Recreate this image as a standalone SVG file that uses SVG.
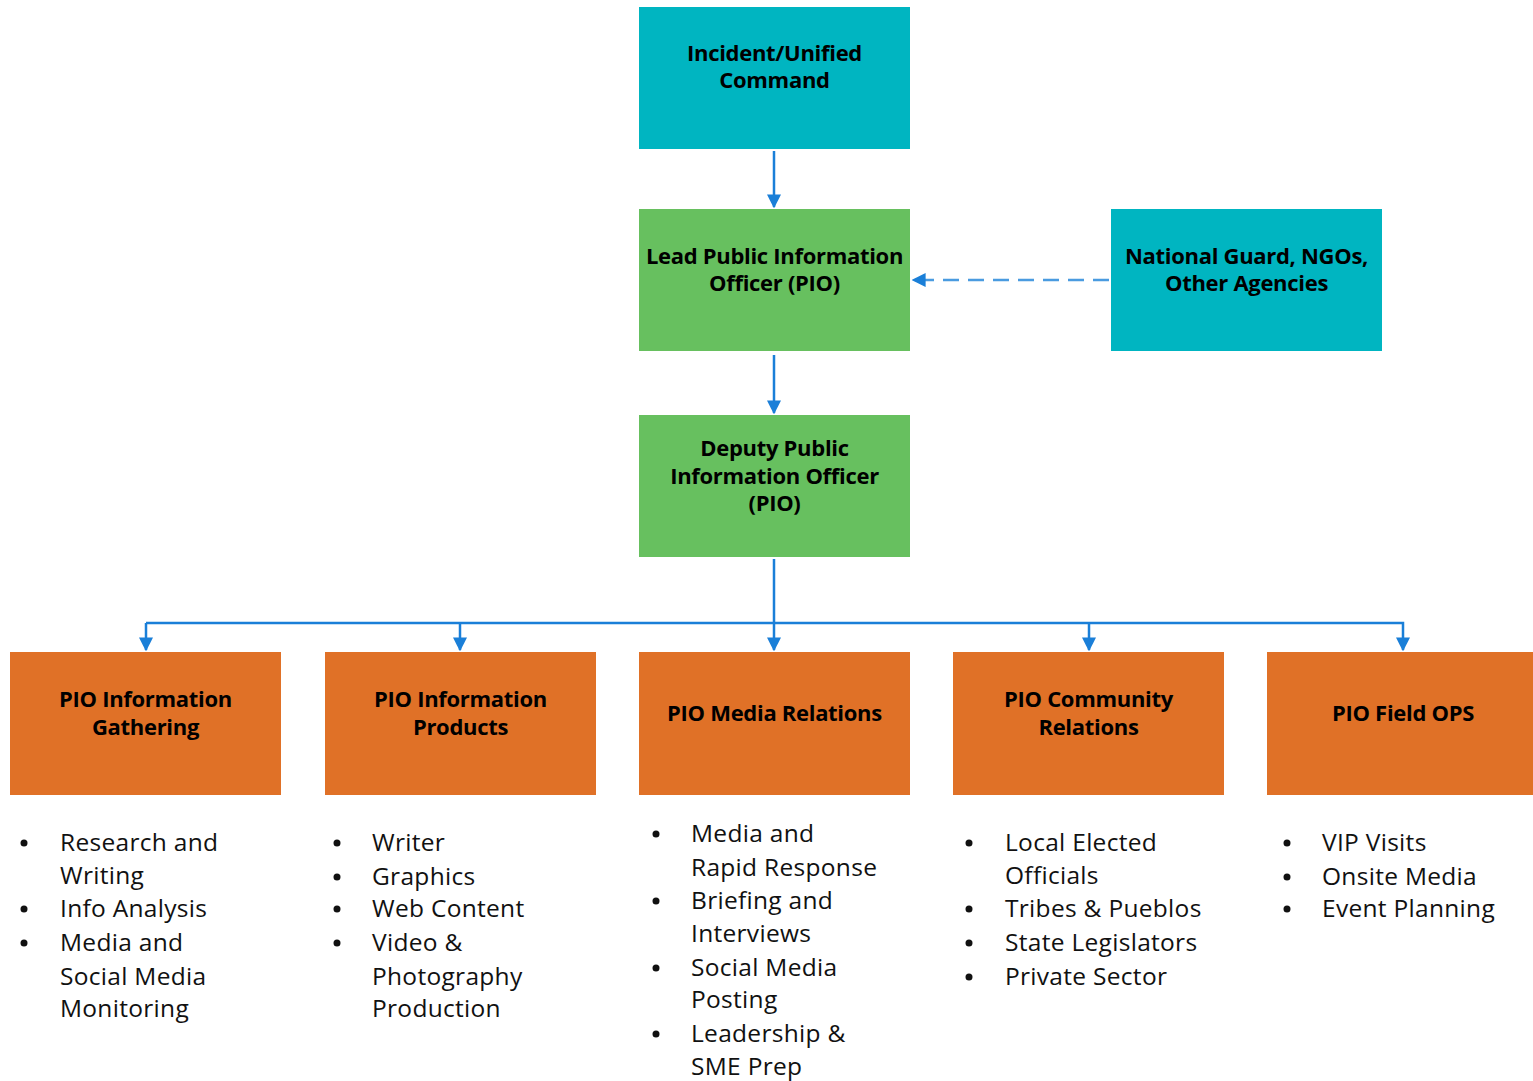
<svg xmlns="http://www.w3.org/2000/svg" width="1533" height="1081" viewBox="0 0 1533 1081">
<style>
.teal{fill:#00B5C1;}
.green{fill:#67C05F;}
.orange{fill:#E07127;}
.lbl{font-family:"Open Sans","Noto Sans","Liberation Sans",sans-serif;font-weight:700;font-size:22px;fill:#000;text-anchor:middle;letter-spacing:-0.3px;}
.li{font-family:"Open Sans","Noto Sans","Liberation Sans",sans-serif;font-size:24.5px;fill:#111;letter-spacing:0.3px;}
.conn{stroke:#1A7FD8;stroke-width:2.5;fill:none;}
</style>
<defs>
<marker id="ah" viewBox="0 0 10 10" refX="9" refY="5" markerWidth="14" markerHeight="14" orient="auto" markerUnits="userSpaceOnUse">
<path d="M0,0 L10,5 L0,10 z" fill="#1A7FD8"/>
</marker>
</defs>
<g id="connectors">
<line class="conn" x1="774" y1="151" x2="774" y2="207" marker-end="url(#ah)"/>
<line class="conn" x1="774" y1="355" x2="774" y2="413" marker-end="url(#ah)"/>
<line class="conn" x1="1109" y1="280" x2="913" y2="280" stroke-dasharray="16,9" style="stroke:#4A9BE0" marker-end="url(#ah)"/>
<line class="conn" x1="774" y1="559" x2="774" y2="650" marker-end="url(#ah)"/>
<polyline class="conn" points="146,623 1403,623 1403,650" marker-end="url(#ah)"/>
<line class="conn" x1="146" y1="623" x2="146" y2="650" marker-end="url(#ah)"/>
<line class="conn" x1="460" y1="623" x2="460" y2="650" marker-end="url(#ah)"/>
<line class="conn" x1="1089" y1="623" x2="1089" y2="650" marker-end="url(#ah)"/>
</g>
<g id="incident">
<rect class="teal" x="639" y="7" width="271" height="142"/>
<text class="lbl" x="774.5" y="61">Incident/Unified</text>
<text class="lbl" x="774.5" y="88">Command</text>
</g>
<g id="lead">
<rect class="green" x="639" y="209" width="271" height="142"/>
<text class="lbl" x="774.5" y="264">Lead Public Information</text>
<text class="lbl" x="774.5" y="291">Officer (PIO)</text>
</g>
<g id="national">
<rect class="teal" x="1111" y="209" width="271" height="142"/>
<text class="lbl" x="1246.5" y="264">National Guard, NGOs,</text>
<text class="lbl" x="1246.5" y="291">Other Agencies</text>
</g>
<g id="deputy">
<rect class="green" x="639" y="415" width="271" height="142"/>
<text class="lbl" x="774.5" y="456">Deputy Public</text>
<text class="lbl" x="774.5" y="484">Information Officer</text>
<text class="lbl" x="774.5" y="511">(PIO)</text>
</g>
<g id="gathering">
<rect class="orange" x="10" y="652" width="271" height="143"/>
<text class="lbl" x="145.5" y="707">PIO Information</text>
<text class="lbl" x="145.5" y="735">Gathering</text>
<g class="li">
<circle cx="24" cy="843" r="3.5"/><text x="60" y="851">Research and</text>
<text x="60" y="884">Writing</text>
<circle cx="24" cy="909" r="3.5"/><text x="60" y="917">Info Analysis</text>
<circle cx="24" cy="943" r="3.5"/><text x="60" y="951">Media and</text>
<text x="60" y="985">Social Media</text>
<text x="60" y="1017">Monitoring</text>
</g>
</g>
<g id="products">
<rect class="orange" x="325" y="652" width="271" height="143"/>
<text class="lbl" x="460.5" y="707">PIO Information</text>
<text class="lbl" x="460.5" y="735">Products</text>
<g class="li">
<circle cx="337" cy="843" r="3.5"/><text x="372" y="851">Writer</text>
<circle cx="337" cy="877" r="3.5"/><text x="372" y="885">Graphics</text>
<circle cx="337" cy="909" r="3.5"/><text x="372" y="917">Web Content</text>
<circle cx="337" cy="943" r="3.5"/><text x="372" y="951">Video &amp;</text>
<text x="372" y="985">Photography</text>
<text x="372" y="1017">Production</text>
</g>
</g>
<g id="media">
<rect class="orange" x="639" y="652" width="271" height="143"/>
<text class="lbl" x="774.5" y="721">PIO Media Relations</text>
<g class="li">
<circle cx="656" cy="834" r="3.5"/><text x="691" y="842">Media and</text>
<text x="691" y="876">Rapid Response</text>
<circle cx="656" cy="901" r="3.5"/><text x="691" y="909">Briefing and</text>
<text x="691" y="942">Interviews</text>
<circle cx="656" cy="968" r="3.5"/><text x="691" y="976">Social Media</text>
<text x="691" y="1008">Posting</text>
<circle cx="656" cy="1034" r="3.5"/><text x="691" y="1042">Leadership &amp;</text>
<text x="691" y="1075">SME Prep</text>
</g>
</g>
<g id="community">
<rect class="orange" x="953" y="652" width="271" height="143"/>
<text class="lbl" x="1088.5" y="707">PIO Community</text>
<text class="lbl" x="1088.5" y="735">Relations</text>
<g class="li">
<circle cx="969" cy="843" r="3.5"/><text x="1005" y="851">Local Elected</text>
<text x="1005" y="884">Officials</text>
<circle cx="969" cy="909" r="3.5"/><text x="1005" y="917">Tribes &amp; Pueblos</text>
<circle cx="969" cy="943" r="3.5"/><text x="1005" y="951">State Legislators</text>
<circle cx="969" cy="977" r="3.5"/><text x="1005" y="985">Private Sector</text>
</g>
</g>
<g id="fieldops">
<rect class="orange" x="1267" y="652" width="271" height="143"/>
<text class="lbl" x="1403" y="721">PIO Field OPS</text>
<g class="li">
<circle cx="1287" cy="843" r="3.5"/><text x="1322" y="851">VIP Visits</text>
<circle cx="1287" cy="877" r="3.5"/><text x="1322" y="885">Onsite Media</text>
<circle cx="1287" cy="909" r="3.5"/><text x="1322" y="917">Event Planning</text>
</g>
</g>
</svg>
